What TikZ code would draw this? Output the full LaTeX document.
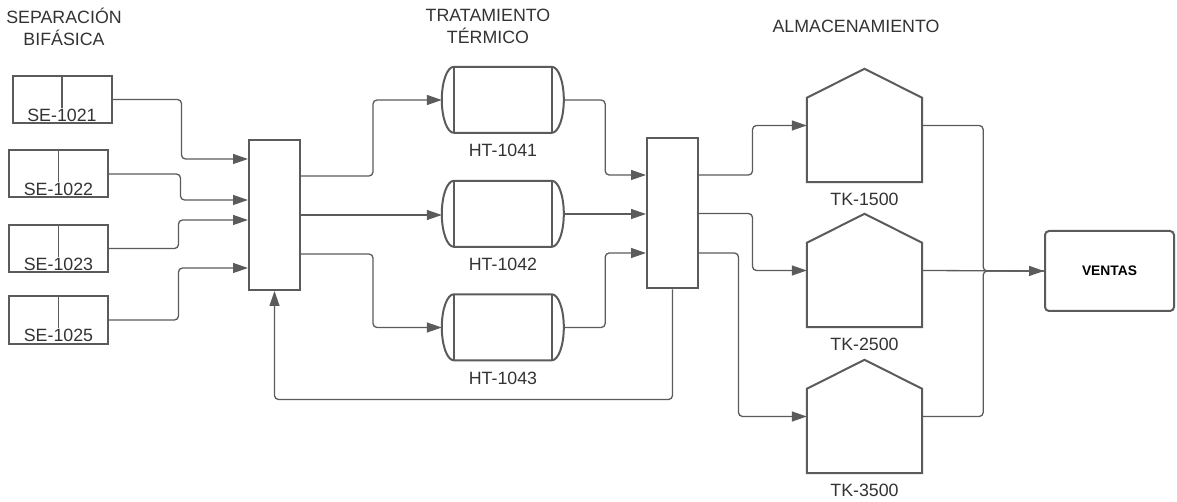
\documentclass[tikz,border=0pt]{standalone}
\usepackage{fontspec}
\setmainfont{Liberation Sans}
\usepackage{tikz}
\usetikzlibrary{arrows.meta, positioning, calc}
\definecolor{cLine}{HTML}{5B5B5B}
\definecolor{cText}{HTML}{333333}

\begin{document}
\begin{tikzpicture}[
  x=1pt, y=-1pt,
  font=\fontsize{17.8}{22}\selectfont,
  text=cText,
  eqp/.style    = {draw=cLine, line width=2pt},
  sep/.style    = {rectangle, eqp, minimum width=99pt, minimum height=47pt, inner sep=0pt},
  mix/.style    = {rectangle, eqp, minimum width=51pt, minimum height=150pt, inner sep=0pt},
  htank/.style  = {rectangle, minimum width=122pt, minimum height=66pt, inner sep=0pt},
  stank/.style  = {rectangle, minimum width=115pt, minimum height=113pt, inner sep=0pt},
  sales/.style  = {rectangle, eqp, rounded corners=4pt, minimum width=129pt,
                   minimum height=80pt, font=\fontsize{13.8}{16}\selectfont\bfseries, text=black},
  head/.style   = {align=center},
  lbl/.style    = {inner sep=0pt},
  flow/.style   = {draw=cLine, line width=1.3pt, rounded corners=4pt},
  arr/.style    = {flow, -{Triangle[length=15pt, width=10pt]}}]

\useasboundingbox (0,0) rectangle (1177,502);

% ---- headers -------------------------------------------------------------
\node[head] (hsep) at (64,27)  {SEPARACIÓN\\BIFÁSICA};
\node[head] (htrt) at (488,26) {TRATAMIENTO\\TÉRMICO};
\node[head] (halm) at (856,26) {ALMACENAMIENTO};

% ---- separators ----------------------------------------------------------
\node[sep, label={[lbl, anchor=south, yshift=2.5pt]south:SE-1021}] (se1) at (62,99.5)  {};
\node[sep, label={[lbl, anchor=south, yshift=2.5pt]south:SE-1022}] (se2) at (58.5,174) {};
\node[sep, label={[lbl, anchor=south, yshift=2.5pt]south:SE-1023}] (se3) at (58.5,248.5) {};
\node[sep, label={[lbl, anchor=south, yshift=2.5pt]south:SE-1025}] (se4) at (58.5,320) {};
\foreach \t in {se1,se2,se3,se4}
  \draw[eqp, line width=1.6pt] (\t.north) -- ++(0,33);

% ---- mixers ----------------------------------------------------------------
\node[mix] (mix1) at (274.5,215)   {};
\node[mix] (mix2) at (672.5,213.5) {};

% ---- heat treatment tanks ------------------------------------------------
\node[htank, label={[lbl, yshift=-11pt]below:HT-1041}] (ht1) at (503,100)   {};
\node[htank, label={[lbl, yshift=-11pt]below:HT-1042}] (ht2) at (503,214)   {};
\node[htank, label={[lbl, yshift=-11pt]below:HT-1043}] (ht3) at (503,327.5) {};
\foreach \t in {ht1,ht2,ht3}{
  \draw[eqp] ([xshift=12pt]\t.north west) -- ++(98,0)
    arc[start angle=90, end angle=-90, x radius=12pt, y radius=33pt]
    -- ++(-98,0)
    arc[start angle=270, end angle=90, x radius=12pt, y radius=33pt] -- cycle;
  \draw[eqp] ([xshift=12pt]\t.north west) -- ++(0,66);
  \draw[eqp] ([xshift=-12pt]\t.north east) -- ++(0,66);
}

% ---- storage tanks ---------------------------------------------------------
\node[stank, label={[lbl, yshift=-11pt]below:TK-1500}] (tk1) at (864.5,125.5) {};
\node[stank, label={[lbl, yshift=-11pt]below:TK-2500}] (tk2) at (864.5,270.5) {};
\node[stank, label={[lbl, yshift=-11pt]below:TK-3500}] (tk3) at (864.5,416.5) {};
\foreach \t in {tk1,tk2,tk3}
  \draw[eqp] (\t.south west) -- ([yshift=-29pt]\t.north west) -- (\t.north)
    -- ([yshift=-29pt]\t.north east) -- (\t.south east) -- cycle;

\node[sales] (ventas) at (1109.5,271) {VENTAS};

% separators -> mixer 1
\draw[arr] (se1.east) -- ++(69,0) |- ([yshift=56pt]mix1.west);
\draw[arr] (se2.east) -- ++(71.5,0) |- ([yshift=15pt]mix1.west);
\draw[arr] (se3.east) -- ++(69.5,0) |- ([yshift=-5pt]mix1.west);
\draw[arr] (se4.east) -- ++(69.5,0) |- ([yshift=-53pt]mix1.west);

% mixer 1 -> heat treatment
\draw[arr] ([yshift=39pt]mix1.east) -- ++(72,0) |- (ht1.west);
\draw[arr] (mix1.east) -- (mix1.east -| ht2.west);
\draw[arr] ([yshift=-39pt]mix1.east) -- ++(72,0) |- (ht3.west);

% heat treatment -> mixer 2
\draw[arr] (ht1.east) -- ++(41,0) |- ([yshift=38.5pt]mix2.west);
\draw[arr] (ht2.east) -- (ht2.east -| mix2.west);
\draw[arr] (ht3.east) -- ++(41,0) |- ([yshift=-39.5pt]mix2.west);

% mixer 2 -> storage
\draw[arr] ([yshift=38.5pt]mix2.east) -- ++(53.5,0) |- (tk1.west);
\draw[arr] (mix2.east) -- ++(53.5,0) |- (tk2.west);
\draw[arr] ([yshift=-39.5pt]mix2.east) -- ++(39.5,0) |- (tk3.west);

% recycle back to mixer 1
\draw[arr] (mix2.south) -- ++(0,110) -| (mix1.south);

% storage -> sales
\draw[flow] (tk1.east) -- ++(61,0) |- (ventas.west);
\draw[flow] (tk3.east) -- ++(61,0) |- (ventas.west);
\draw[arr] (tk2.east) -- (ventas.west);

\end{tikzpicture}
\end{document}
